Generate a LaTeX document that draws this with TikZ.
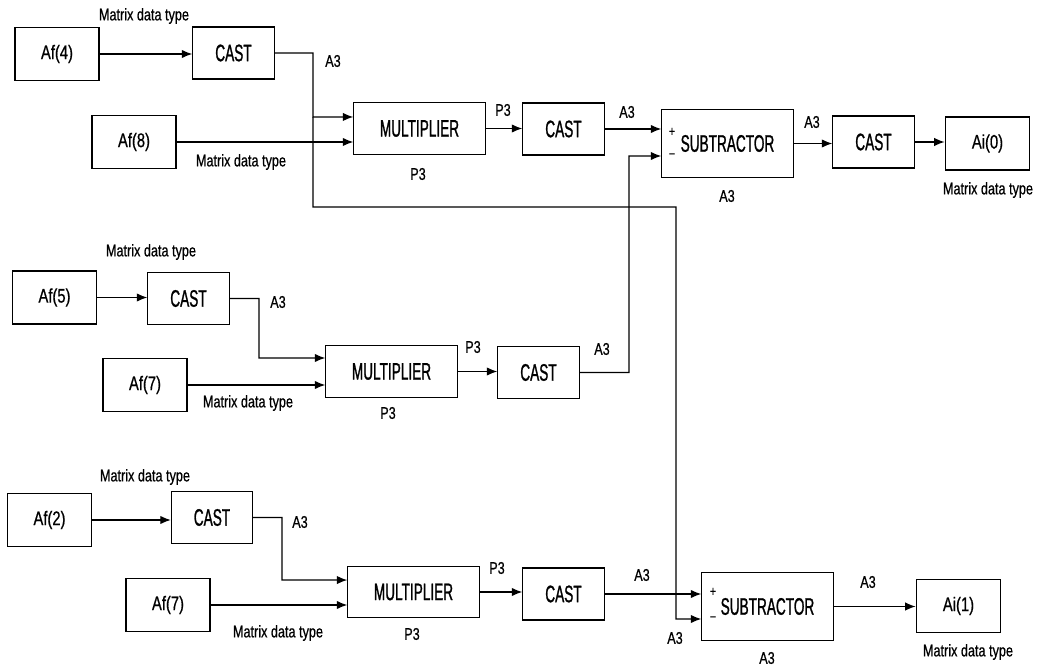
\documentclass[tikz,border=0pt]{standalone}
\usepackage{fontspec}
\setmainfont{Liberation Sans}[FakeStretch=0.75, FakeBold=0.6]
\newfontfamily\blockfont{Liberation Sans}[FakeStretch=0.57, FakeBold=1]
\usetikzlibrary{arrows.meta}

\begin{document}
\begin{tikzpicture}[>={Latex[length=7.5pt,width=6pt]}, x=0.025cm, y=-0.025cm]
        \tikzset{io/.style={draw, line width=1.2pt, minimum width=2.1cm, minimum height=1.33cm, inner sep=0pt, font=\fontsize{14}{16}\selectfont},
                 cast/.style={draw, line width=0.8pt, minimum width=2.03cm, minimum height=1.3cm, inner sep=0pt, font=\blockfont\fontsize{17}{19}\selectfont},
                 mult/.style={cast, minimum width=3.28cm, minimum height=1.28cm},
                 sub/.style={cast, minimum width=3.28cm, minimum height=1.68cm},
                 lbl/.style={inner sep=0pt, font=\fontsize{12}{14}\selectfont},
                 sgn/.style={inner sep=0pt, font=\fontsize{10}{12}\selectfont},
                 wire/.style={line width=0.9pt}}
        \useasboundingbox (0,0) rectangle (1040,668);

        % first chain
        \node[io] (af4) at (57,54) {Af(4)};
        \node[cast] (cast1) at (233.5,53) {CAST};
        \node[io] (af8) at (134,142) {Af(8)};
        \node[mult] (mult1) at (419.5,128.5) {MULTIPLIER};
        \node[cast] (cast2) at (563.5,129) {CAST};
        \node[sub] (sub1) at (727.5,143.5) {SUBTRACTOR};
        \node[cast] (cast3) at (873.5,142) {CAST};
        \node[io] (ai0) at (987.5,143.5) {Ai(0)};

        % second chain
        \node[io] (af5) at (54.5,297.5) {Af(5)};
        \node[cast] (cast4) at (188.5,298.5) {CAST};
        \node[io] (af7) at (145,385) {Af(7)};
        \node[mult] (mult2) at (391.5,371.5) {MULTIPLIER};
        \node[cast] (cast5) at (538.5,372.5) {CAST};

        % third chain
        \node[io] (af2) at (49.5,520) {Af(2)};
        \node[cast] (cast6) at (212,517.5) {CAST};
        \node[io] (af7b) at (168,605) {Af(7)};
        \node[mult] (mult3) at (413.5,592) {MULTIPLIER};
        \node[cast] (cast7) at (563.5,594) {CAST};
        \node[sub] (sub2) at (767.5,606.5) {SUBTRACTOR};
        \node[io] (ai1) at (958.5,606) {Ai(1)};

        % signs on the subtractors
        \node[sgn] (s1plus) at (672,132) {+};
        \node[sgn] (s1minus) at (672,156) {−};
        \node[sgn] (s2plus) at (713,592) {+};
        \node[sgn] (s2minus) at (713,619) {−};

        % input ports
        \coordinate (m1a) at ([yshift=8.2pt]mult1.west);
        \coordinate (m2a) at ([yshift=9.6pt]mult2.west);
        \coordinate (m3a) at ([yshift=8.5pt]mult3.west);
        \coordinate (s1a) at ([yshift=9.6pt]sub1.west);
        \coordinate (s1b) at ([yshift=-8.9pt]sub1.west);
        \coordinate (s2a) at ([yshift=9.6pt]sub2.west);
        \coordinate (s2b) at ([yshift=-8.9pt]sub2.west);

        % routing corners
        \coordinate (k1) at (313,117);
        \coordinate (k2) at (313,207);
        \coordinate (k3) at (676,619);
        \coordinate (k4) at (629,156);
        \coordinate (k5) at (259,358);
        \coordinate (k6) at (282,580);

        \draw[wire,->] (af4.east) -- (af4.east -| cast1.west);
        \draw[wire,->] (cast1.east) -| (k1) -- (m1a);
        \draw[wire,->] (k1) -- (k2) -| (k3) -- (s2b);
        \draw[wire,->] (af8.east) -- (af8.east -| mult1.west);
        \draw[wire,->] (mult1.east) -- (mult1.east -| cast2.west);
        \draw[wire,->] (cast2.east) -- (cast2.east -| s1a);
        \draw[wire,->] (cast5.east) -| (k4) -- (s1b);
        \draw[wire,->] (sub1.east) -- (sub1.east -| cast3.west);
        \draw[wire,->] (cast3.east) -- (cast3.east -| ai0.west);

        \draw[wire,->] (af5.east) -- (af5.east -| cast4.west);
        \draw[wire,->] (cast4.east) -| (k5) -- (m2a);
        \draw[wire,->] (af7.east) -- (af7.east -| mult2.west);
        \draw[wire,->] (mult2.east) -- (mult2.east -| cast5.west);

        \draw[wire,->] (af2.east) -- (af2.east -| cast6.west);
        \draw[wire,->] (cast6.east) -| (k6) -- (m3a);
        \draw[wire,->] (af7b.east) -- (af7b.east -| mult3.west);
        \draw[wire,->] (mult3.east) -- (mult3.east -| cast7.west);
        \draw[wire,->] (cast7.east) -- (cast7.east -| s2a);
        \draw[wire,->] (sub2.east) -- (sub2.east -| ai1.west);

        % labels
        \node[lbl] (t1) at (144,16) {Matrix data type};
        \node[lbl] (t2) at (241,162) {Matrix data type};
        \node[lbl] (t3) at (988,190) {Matrix data type};
        \node[lbl] (t4) at (151,252) {Matrix data type};
        \node[lbl] (t5) at (248,403) {Matrix data type};
        \node[lbl] (t6) at (145,477) {Matrix data type};
        \node[lbl] (t7) at (278,633) {Matrix data type};
        \node[lbl] (t8) at (968,652) {Matrix data type};

        \node[lbl] (a1) at (333,61) {A3};
        \node[lbl] (a2) at (627,112) {A3};
        \node[lbl] (a3) at (727,196) {A3};
        \node[lbl] (a4) at (812,122) {A3};
        \node[lbl] (a5) at (278,302) {A3};
        \node[lbl] (a6) at (602,349) {A3};
        \node[lbl] (a7) at (300,522) {A3};
        \node[lbl] (a8) at (642,575) {A3};
        \node[lbl] (a9) at (675,638) {A3};
        \node[lbl] (a10) at (767,658) {A3};
        \node[lbl] (a11) at (868,582) {A3};

        \node[lbl] (p1) at (503,110) {P3};
        \node[lbl] (p2) at (418,174) {P3};
        \node[lbl] (p3) at (473,347) {P3};
        \node[lbl] (p4) at (388,413) {P3};
        \node[lbl] (p5) at (497,568) {P3};
        \node[lbl] (p6) at (412,634) {P3};
    \end{tikzpicture}
\end{document}
